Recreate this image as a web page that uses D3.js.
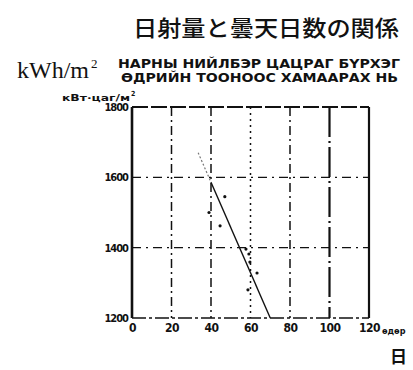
<!DOCTYPE html>
<html>
<head>
<meta charset="utf-8">
<script src="https://cdn.jsdelivr.net/npm/d3@7"></script>
<style>
  body { margin: 0; background: #fff; }
  svg { display: block; }
</style>
</head>
<body>
<svg id="chart" width="413" height="370"></svg>
<script>
// data
var days = [47, 39, 44.6, 57.7, 59.2, 59.7, 63.3, 58.7]
var radiation = [1545, 1500, 1462, 1396, 1382, 1359, 1328, 1280]
var trendDays = [33.5, 40, 70]
var trendRad = [1670, 1586, 1200]
var xTicks = [0, 20, 40, 60, 80, 100, 120]
var yTicks = [1200, 1400, 1600, 1800]

var svg = d3.select('#chart')
var ink = '#111'
var cond = 'DejaVu Sans Condensed, DejaVu Sans'

var x = d3.scaleLinear().domain([0, 120]).range([132, 369])
var y = d3.scaleLinear().domain([1200, 1800]).range([318, 107])

// titles
svg.append('text')
  .attr('x', 133).attr('y', 36)
  .attr('font-family', 'Noto Sans CJK JP')
  .attr('font-weight', 500)
  .attr('font-size', 22)
  .attr('textLength', 266)
  .attr('lengthAdjust', 'spacingAndGlyphs')
  .attr('fill', ink)
  .text('日射量と曇天日数の関係')

svg.append('text')
  .attr('x', 17).attr('y', 78)
  .attr('font-family', 'Liberation Serif')
  .attr('font-size', 24)
  .attr('textLength', 72)
  .attr('lengthAdjust', 'spacingAndGlyphs')
  .attr('fill', ink)
  .text('kWh/m')
svg.append('text')
  .attr('x', 91).attr('y', 68)
  .attr('font-family', 'Liberation Serif')
  .attr('font-size', 13)
  .attr('fill', ink)
  .text('2')

svg.append('text')
  .attr('x', 118).attr('y', 68)
  .attr('font-family', cond)
  .attr('font-weight', 'bold')
  .attr('font-size', 12)
  .attr('textLength', 282)
  .attr('lengthAdjust', 'spacingAndGlyphs')
  .attr('fill', ink)
  .text('НАРНЫ НИЙЛБЭР ЦАЦРАГ БҮРХЭГ')
svg.append('text')
  .attr('x', 121).attr('y', 82)
  .attr('font-family', cond)
  .attr('font-weight', 'bold')
  .attr('font-size', 12)
  .attr('textLength', 277)
  .attr('lengthAdjust', 'spacingAndGlyphs')
  .attr('fill', ink)
  .text('ӨДРИЙН ТООНООС ХАМААРАХ НЬ')

svg.append('text')
  .attr('x', 62).attr('y', 101)
  .attr('font-family', cond)
  .attr('font-weight', 'bold')
  .attr('font-size', 9)
  .attr('textLength', 68)
  .attr('lengthAdjust', 'spacingAndGlyphs')
  .attr('fill', ink)
  .text('кВт·цаг/м')
svg.append('text')
  .attr('x', 131).attr('y', 96)
  .attr('font-family', cond)
  .attr('font-weight', 'bold')
  .attr('font-size', 7)
  .attr('fill', ink)
  .text('2')

// grid
var grid = svg.append('g')
grid.selectAll('.vgrid').data(xTicks.slice(1, 6))
  .enter().append('line')
  .attr('x1', function(d){ return x(d) }).attr('x2', function(d){ return x(d) })
  .attr('y1', y(1800)).attr('y2', y(1200))
  .attr('stroke', ink)
  .attr('stroke-width', function(d){ return d == 100 ? 2.2 : 1.5 })
  .attr('stroke-dasharray', function(d){ return d == 100 ? '30,4,2,4' : (d == 60 ? '2,4' : '9,4,2,4') })
grid.selectAll('.hgrid').data([1400, 1600])
  .enter().append('line')
  .attr('x1', x(0)).attr('x2', x(120))
  .attr('y1', function(d){ return y(d) }).attr('y2', function(d){ return y(d) })
  .attr('stroke', ink)
  .attr('stroke-width', 1.4)
  .attr('stroke-dasharray', '9,5,2,5')

// frame
svg.append('line').attr('x1', x(0)).attr('x2', x(120)).attr('y1', y(1800)).attr('y2', y(1800))
  .attr('stroke', ink).attr('stroke-width', 1.8).attr('stroke-dasharray', '16,3')
svg.append('line').attr('x1', x(0)).attr('x2', x(120)).attr('y1', y(1200)).attr('y2', y(1200))
  .attr('stroke', ink).attr('stroke-width', 1.6).attr('stroke-dasharray', '14,3,3,3')
svg.append('line').attr('x1', x(120)).attr('x2', x(120)).attr('y1', y(1800)).attr('y2', y(1200))
  .attr('stroke', ink).attr('stroke-width', 2.2)
svg.append('line').attr('x1', x(0)).attr('x2', x(0)).attr('y1', y(1800)).attr('y2', y(1200))
  .attr('stroke', ink).attr('stroke-width', 2.6)

// axes labels
var yAxis = d3.axisLeft(y).tickValues(yTicks).tickFormat(d3.format('d')).tickSize(0).tickPadding(4)
svg.append('g').attr('transform', 'translate(' + x(0) + ',0)').call(yAxis)
  .call(function(g){ g.select('.domain').remove() })
  .selectAll('text')
  .attr('font-family', cond)
  .attr('font-weight', 'bold')
  .attr('font-size', 11)
  .attr('letter-spacing', -1)
  .attr('fill', ink)

var xAxis = d3.axisBottom(x).tickValues(xTicks).tickSize(0).tickPadding(5)
svg.append('g').attr('transform', 'translate(0,' + y(1200) + ')').call(xAxis)
  .call(function(g){ g.select('.domain').remove() })
  .selectAll('text')
  .attr('font-family', cond)
  .attr('font-weight', 'bold')
  .attr('font-size', 12)
  .attr('letter-spacing', -0.5)
  .attr('fill', ink)

svg.append('text')
  .attr('x', 382).attr('y', 334)
  .attr('font-family', cond)
  .attr('font-weight', 'bold')
  .attr('font-size', 9)
  .attr('fill', ink)
  .text('өдөр')

svg.append('text')
  .attr('x', 390).attr('y', 363)
  .attr('font-family', 'Noto Sans CJK JP')
  .attr('font-weight', 'bold')
  .attr('font-size', 17)
  .attr('fill', ink)
  .text('日')

// trend line: faint dotted start, solid rest
svg.append('line')
  .attr('x1', x(trendDays[0])).attr('y1', y(trendRad[0]))
  .attr('x2', x(trendDays[1])).attr('y2', y(trendRad[1]))
  .attr('stroke', '#777').attr('stroke-width', 1.2).attr('stroke-dasharray', '2,2')
svg.append('line')
  .attr('x1', x(trendDays[1])).attr('y1', y(trendRad[1]))
  .attr('x2', x(trendDays[2])).attr('y2', y(trendRad[2]))
  .attr('stroke', ink).attr('stroke-width', 1.4)

// points
svg.selectAll('.pt').data(days)
  .enter().append('circle')
  .attr('cx', function(d){ return x(d) })
  .attr('cy', function(d, i){ return y(radiation[i]) })
  .attr('r', 1.6)
  .attr('fill', ink)
</script>
</body>
</html>
